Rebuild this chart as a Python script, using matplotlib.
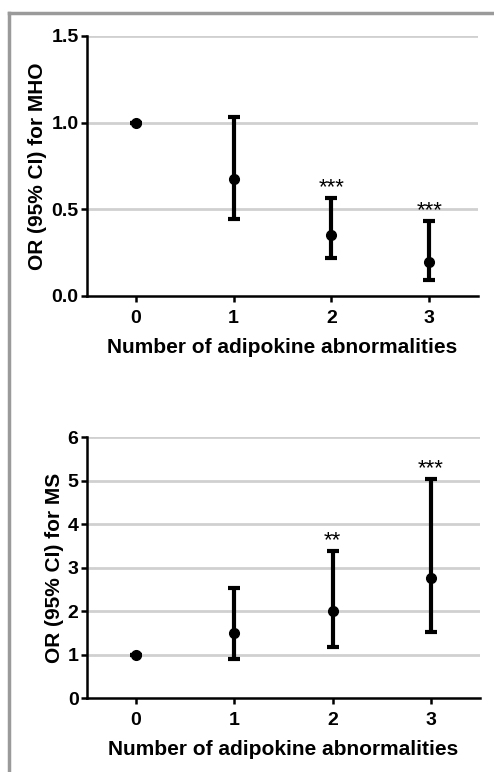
import numpy as np
import matplotlib
matplotlib.use('Agg')
import matplotlib.pyplot as plt
from matplotlib.lines import Line2D

plt.rcParams['font.family'] = ['Liberation Sans', 'DejaVu Sans']

groups = [0, 1, 2, 3]
xlabel = 'Number of adipokine abnormalities'

# OR (95% CI) for MHO
mho_or = [1.0, 0.675, 0.35, 0.198]
mho_lo = [1.0, 0.442, 0.217, 0.092]
mho_hi = [1.0, 1.031, 0.564, 0.431]
mho_sig = ['', '', '***', '***']

# OR (95% CI) for MS
ms_or = [1.0, 1.494, 2.007, 2.77]
ms_lo = [1.0, 0.897, 1.186, 1.53]
ms_hi = [1.0, 2.535, 3.379, 5.04]
ms_sig = ['', '', '**', '***']


def draw_panel(ax, val, lo, hi, sig, ylim, yticks, yticklabels, ylabel):
    val = np.array(val)
    yerr = [val - np.array(lo), np.array(hi) - val]
    for y in yticks[1:]:
        ax.axhline(y, color='#d0d0d0', lw=2, zorder=0)
    ax.errorbar(groups, val, yerr=yerr, fmt='o', color='black', ms=7,
                elinewidth=3, capsize=4.5, capthick=3, zorder=3)
    for x, h, s in zip(groups, hi, sig):
        if s:
            ax.annotate(s, (x, h), xytext=(0, 0), textcoords='offset points',
                        ha='center', va='bottom', fontsize=16)
    ax.set_xlim(-0.5, 3.5)
    ax.set_ylim(*ylim)
    ax.set_xticks(groups)
    ax.set_yticks(yticks)
    ax.set_yticklabels(yticklabels)
    ax.set_xlabel(xlabel, fontsize=15, fontweight='bold', labelpad=8)
    ax.set_ylabel(ylabel, fontsize=15, fontweight='bold', labelpad=3)
    for side in ['top', 'right']:
        ax.spines[side].set_visible(False)
    for side in ['left', 'bottom']:
        ax.spines[side].set_linewidth(1.8)
    ax.tick_params(width=1.8, length=4, labelsize=14)
    ax.tick_params(axis='x', pad=6)
    ax.tick_params(axis='y', pad=2)
    for lab in ax.get_xticklabels() + ax.get_yticklabels():
        lab.set_fontweight('bold')


fig = plt.figure(figsize=(4.94, 7.72), dpi=100)

ax1 = fig.add_axes([0.176, 0.6166, 0.792, 0.3368])
draw_panel(ax1, mho_or, mho_lo, mho_hi, mho_sig, (0, 1.5),
           [0, 0.5, 1.0, 1.5], ['0.0', '0.5', '1.0', '1.5'], 'OR (95% CI) for MHO')

ax2 = fig.add_axes([0.176, 0.0955, 0.796, 0.3381])
draw_panel(ax2, ms_or, ms_lo, ms_hi, ms_sig, (0, 6),
           [0, 1, 2, 3, 4, 5, 6], ['0', '1', '2', '3', '4', '5', '6'], 'OR (95% CI) for MS')

# gray frame around the figure
fig.add_artist(Line2D([0.019, 1.0], [0.983, 0.983], color='#9a9a9a', lw=2.5,
                      transform=fig.transFigure))
fig.add_artist(Line2D([0.019, 0.019], [0.0, 0.983], color='#9a9a9a', lw=2.5,
                      transform=fig.transFigure))

fig.savefig('out.png', dpi=100)
